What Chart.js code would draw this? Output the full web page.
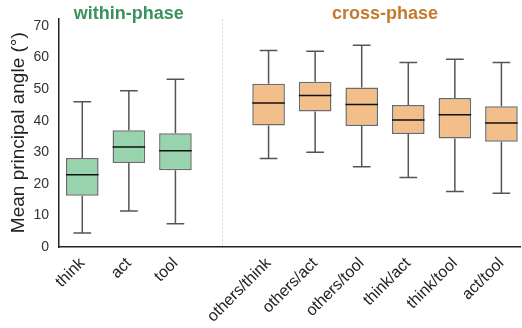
<!DOCTYPE html>
<html>
<head>
<meta charset="utf-8">
<script src="https://cdn.jsdelivr.net/npm/chart.js@4.4.1/dist/chart.umd.min.js"></script>
<style>
  html, body { margin: 0; padding: 0; background: #fff; }
  #wrap { width: 522px; height: 328px; position: relative; }
</style>
</head>
<body>
<div id="wrap"><canvas id="box"></canvas></div>
<script>
// категории (индекс 3 - пустой промежуток между группами)
var labels    = ['think', 'act', 'tool', '', 'others/think', 'others/act', 'others/tool', 'think/act', 'think/tool', 'act/tool'];
var positions = [0, 1, 2, 4, 5, 6, 7, 8, 9];
var names     = ['think', 'act', 'tool', 'others/think', 'others/act', 'others/tool', 'think/act', 'think/tool', 'act/tool'];
var groups    = ['within', 'within', 'within', 'cross', 'cross', 'cross', 'cross', 'cross', 'cross'];

// значения ящиков
var whiskerLow  = [4.4, 11.4, 7.4, 28.0, 30.0, 25.4, 22.0, 17.6, 17.0];
var q1          = [16.2, 26.6, 24.3, 38.5, 42.9, 38.3, 35.8, 34.4, 33.3];
var median      = [22.9, 31.7, 30.5, 45.6, 48.0, 45.1, 40.2, 41.9, 39.3];
var q3          = [28.2, 37.0, 36.0, 51.7, 52.3, 50.5, 45.0, 47.2, 44.6];
var whiskerHigh = [46.0, 49.5, 53.1, 62.2, 62.0, 63.9, 58.4, 59.5, 58.4];

var yTicks = [0, 10, 20, 30, 40, 50, 60, 70];

var GREEN = '#97d3ac';
var ORANGE = '#f2bf8b';

var boxData = positions.map(function(p, i) {
  return { x: p, y: [q1[i], q3[i]] };
});

// усы, медианы и подписи групп
var whiskerPlugin = {
  id: 'whiskers',
  afterDatasetsDraw: function(chart) {
    var ctx = chart.ctx;
    var xs = chart.scales.x, ys = chart.scales.y;
    var unit = xs.getPixelForValue(1) - xs.getPixelForValue(0);
    var boxHalf = unit * 0.35, capHalf = unit * 0.19;
    ctx.save();
    ctx.lineCap = 'butt';
    positions.forEach(function(p, i) {
      var x = xs.getPixelForValue(p);
      ctx.strokeStyle = '#555';
      ctx.lineWidth = 1.5;
      ctx.beginPath();
      ctx.moveTo(x, ys.getPixelForValue(q3[i]));
      ctx.lineTo(x, ys.getPixelForValue(whiskerHigh[i]));
      ctx.moveTo(x, ys.getPixelForValue(q1[i]));
      ctx.lineTo(x, ys.getPixelForValue(whiskerLow[i]));
      ctx.moveTo(x - capHalf, ys.getPixelForValue(whiskerHigh[i]));
      ctx.lineTo(x + capHalf, ys.getPixelForValue(whiskerHigh[i]));
      ctx.moveTo(x - capHalf, ys.getPixelForValue(whiskerLow[i]));
      ctx.lineTo(x + capHalf, ys.getPixelForValue(whiskerLow[i]));
      ctx.stroke();
      ctx.strokeStyle = '#111';
      ctx.beginPath();
      ctx.moveTo(x - boxHalf, ys.getPixelForValue(median[i]));
      ctx.lineTo(x + boxHalf, ys.getPixelForValue(median[i]));
      ctx.stroke();
    });
    ctx.font = 'bold 18px "Liberation Sans", Arial, sans-serif';
    ctx.textAlign = 'center';
    ctx.textBaseline = 'middle';
    ctx.fillStyle = '#3a925c';
    ctx.fillText('within-phase', xs.getPixelForValue(1), 14);
    ctx.fillStyle = '#c27a30';
    ctx.fillText('cross-phase', xs.getPixelForValue(6.5), 14);
    ctx.restore();
  }
};

new Chart(document.getElementById('box'), {
  type: 'bar',
  data: {
    datasets: [{
      data: boxData,
      backgroundColor: groups.map(function(g) { return g === 'within' ? GREEN : ORANGE; }),
      borderColor: '#6b6b6b',
      borderWidth: 1.5,
      borderSkipped: false,
      barPercentage: 0.7,
      categoryPercentage: 1.0
    }]
  },
  options: {
    responsive: true,
    maintainAspectRatio: false,
    animation: false,
    layout: { padding: { top: 6, right: 0, left: 0, bottom: 0 } },
    plugins: { legend: { display: false }, tooltip: { enabled: false } },
    scales: {
      x: {
        type: 'linear',
        offset: false,
        min: -0.5,
        max: 9.42,
        afterFit: function(s) { s.height = 81; },
        afterBuildTicks: function(s) {
          s.ticks = labels.map(function(l, i) { return { value: i }; });
        },
        ticks: {
          autoSkip: false,
          maxRotation: 45,
          minRotation: 45,
          padding: 7,
          color: '#222',
          font: { family: '"Liberation Sans", Arial, sans-serif', size: 16 },
          callback: function(v) { return labels[v]; }
        },
        grid: { display: false, drawTicks: false, offset: false },
        border: { display: true, color: '#222', width: 1.6 }
      },
      y: {
        min: 0,
        max: 72.4,
        afterFit: function(s) { s.width = 59; },
        afterBuildTicks: function(s) {
          s.ticks = yTicks.map(function(v) { return { value: v }; });
        },
        ticks: {
          padding: 10,
          color: '#333',
          font: { family: '"Liberation Sans", Arial, sans-serif', size: 14 }
        },
        grid: { display: false, drawTicks: false },
        border: { display: true, color: '#222', width: 1.5 },
        title: {
          display: true,
          text: 'Mean principal angle (°)',
          color: '#222',
          padding: { top: 7, bottom: 0 },
          font: { family: '"Liberation Sans", Arial, sans-serif', size: 19 }
        }
      }
    }
  },
  plugins: [whiskerPlugin, {
    id: 'sepDash',
    beforeDatasetsDraw: function(chart) {
      var ctx = chart.ctx, xs = chart.scales.x, a = chart.chartArea;
      var x = Math.round(xs.getPixelForValue(3)) + 0.5;
      ctx.save();
      ctx.strokeStyle = '#d8d8d8';
      ctx.lineWidth = 1;
      ctx.setLineDash([2, 2]);
      ctx.beginPath();
      ctx.moveTo(x, a.top + 1);
      ctx.lineTo(x, a.bottom);
      ctx.stroke();
      ctx.restore();
    }
  }]
});
</script>
</body>
</html>
